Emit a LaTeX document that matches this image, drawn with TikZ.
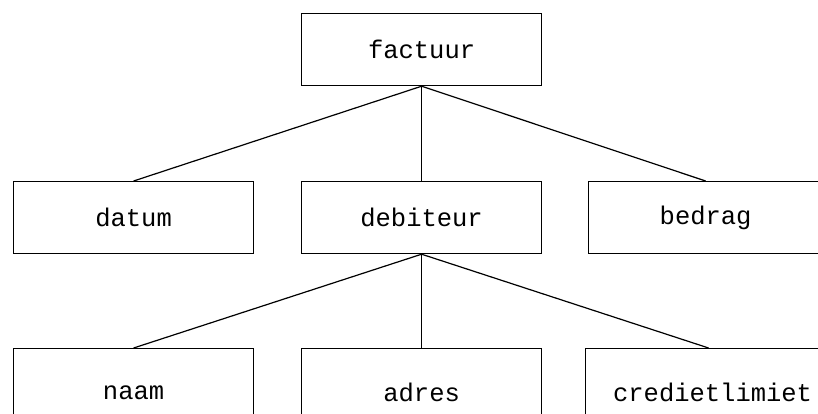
\documentclass[tikz,border=0pt]{standalone}
\usepackage{fontspec}
\setmonofont{Liberation Mono}
\begin{document}
\begin{tikzpicture}[x=1pt,y=-1pt,
  box/.style={draw=black, line width=1.2pt, minimum width=240pt, minimum height=72pt, inner sep=0pt,
    font=\ttfamily\fontsize{25.5}{30}\selectfont, anchor=north west},
  link/.style={draw=black, line width=1.2pt}]
\useasboundingbox (0,0) rectangle (818,414);
\clip (0,0) rectangle (818,414);
\node[box] (factuur) at (301,13) {factuur};
\node[box] (datum) at (13,181) {datum};
\node[box] (debiteur) at (301,181) {debiteur};
\node[box, minimum width=234pt] (bedrag) at (588,181) {bedrag};
\node[box, minimum height=88pt] (naam) at (13,348) {naam};
\node[box, minimum height=88pt] (adres) at (301,348) {adres};
\node[box, minimum height=88pt, minimum width=246pt] (krediet) at (585,348) {\hspace*{8pt}credietlimiet};
\draw[link] (factuur.south) -- (datum.north);
\draw[link] (factuur.south) -- (debiteur.north);
\draw[link] (factuur.south) -- (bedrag.north);
\draw[link] (debiteur.south) -- (naam.north);
\draw[link] (debiteur.south) -- (adres.north);
\draw[link] (debiteur.south) -- (krediet.north);
\end{tikzpicture}
\end{document}
